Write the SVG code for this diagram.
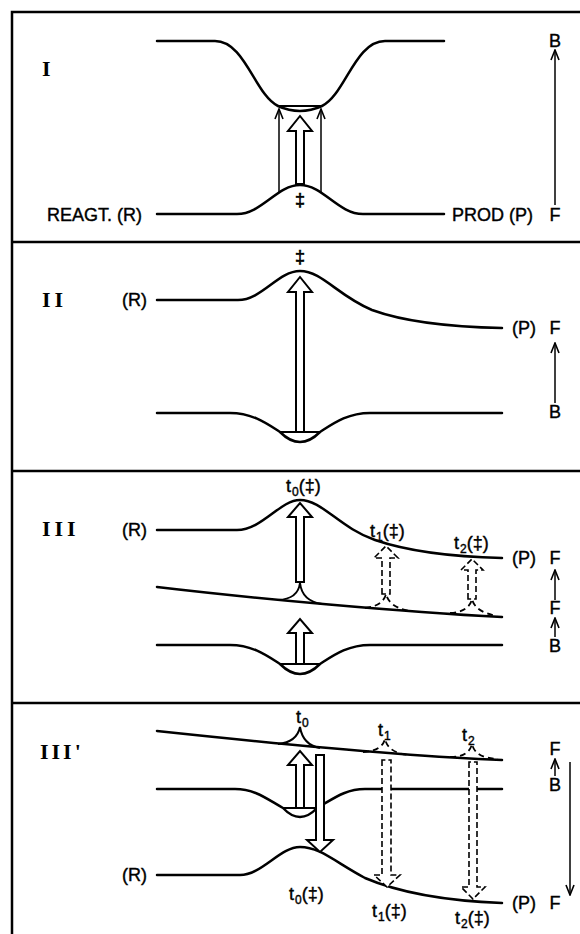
<svg xmlns="http://www.w3.org/2000/svg" width="580" height="934" viewBox="0 0 580 934">
<style>
.frame{stroke:#000;stroke-width:2.5;fill:none}
.curve{stroke:#000;stroke-width:2.5;fill:none;stroke-linecap:round}
.level{stroke:#000;stroke-width:2.2;fill:none}
.hollow{stroke:#000;stroke-width:2;fill:#fff}
.dhollow{stroke:#000;stroke-width:1.6;fill:#fff;stroke-dasharray:6 3}
.cusp{stroke:#000;stroke-width:2;fill:none}
.dcusp{stroke:#000;stroke-width:1.8;fill:none;stroke-dasharray:6 4}
.thin{stroke:#000;stroke-width:1.5;fill:none;marker-end:url(#vhead)}
.lbl{font-family:"Liberation Sans",Arial,sans-serif;font-size:18px;fill:#000;stroke:#000;stroke-width:0.4}
.tl{font-size:18px}
.sub{font-size:12px}
.rn{font-family:"Liberation Serif","Times New Roman",serif;font-size:22px;font-weight:bold;fill:#000}
.ts{font-family:"Liberation Sans",Arial,sans-serif;font-size:18px;fill:#000;stroke:#000;stroke-width:0.6;text-anchor:middle}
.ax{font-family:"Liberation Sans",Arial,sans-serif;font-size:18px;fill:#000;stroke:#000;stroke-width:0.4;text-anchor:middle}
</style>
<defs>
<marker id="vhead" viewBox="-12 -6 13 12" refX="0" refY="0" markerWidth="13" markerHeight="12" orient="auto" markerUnits="userSpaceOnUse"><path d="M-10,-4 L0,0 L-10,4" fill="none" stroke="#000" stroke-width="1.6"/></marker>
</defs>
<rect width="580" height="934" fill="#fff"/>
<g id="frame" class="frame">
<path d="M12,934 V12 H582"/>
<path d="M12,242 H582"/>
<path d="M12,471 H582"/>
<path d="M12,703 H582"/>
</g>

<g id="panel-I">
<text class="rn" x="42" y="76">I</text>
<path class="curve" d="M157,41 H215 C245,41 255,95 278,106 Q300,116 322,106 C345,95 355,41 385,41 H444"/>
<path class="level" d="M278,106 H322"/>
<path class="curve" d="M157,214 H237 C262,214 277,185 300,185 C323,185 338,214 363,214 H444"/>
<text class="ts" x="300" y="206">‡</text>
<text class="lbl" x="47" y="221">REAGT. (R)</text>
<text class="lbl" x="452" y="221">PROD (P)</text>
<text class="ax" x="555" y="221">F</text>
<text class="ax" x="555" y="47">B</text>
</g>

<g id="panel-II">
<text class="rn" x="42" y="307" letter-spacing="4">II</text>
<text class="lbl" x="122" y="306">(R)</text>
<path class="curve" d="M157,300 H238 C262,300 278,271 300,271 C322,271 338,296 372,310 C405,322 450,327 502,328"/>
<text class="ts" x="300" y="263">‡</text>
<text class="lbl" x="512" y="334">(P)</text>
<text class="ax" x="555" y="334">F</text>
<text class="ax" x="555" y="418">B</text>
<path class="curve" d="M157,413 H230 C252,413 266,423 280,432 Q300,452 320,432 C334,423 348,413 370,413 H502"/>
<path class="level" d="M280,432 H320"/>
</g>

<g id="panel-III">
<text class="rn" x="42" y="536" letter-spacing="4">III</text>
<text class="lbl" x="122" y="536">(R)</text>
<path class="curve" d="M157,530 H237 C262,530 280,500 300,500 C322,500 340,528 375,540 C410,552 460,557 502,558"/>
<text class="lbl tl" x="286" y="492">t<tspan class="sub" dx="1" dy="4">0</tspan><tspan dy="-4">(‡)</tspan></text>
<text class="lbl tl" x="370" y="537">t<tspan class="sub" dx="1" dy="4">1</tspan><tspan dy="-4">(‡)</tspan></text>
<text class="lbl tl" x="454" y="549">t<tspan class="sub" dx="1" dy="4">2</tspan><tspan dy="-4">(‡)</tspan></text>
<text class="lbl" x="512" y="564">(P)</text>
<text class="ax" x="555" y="564">F</text>
<text class="ax" x="555" y="614">F</text>
<text class="ax" x="555" y="652">B</text>
<path class="curve" d="M157,587 C250,598 400,612 502,617"/>
<path class="cusp" d="M278,600 Q298,599 300,583 Q302,601 322,604"/>
<path class="dcusp" d="M365,608 Q383,606 386,594 Q389,607 409,611"/>
<path class="dcusp" d="M450,613 Q469,612 472,599 Q475,612 497,616"/>
<path class="curve" d="M157,645 H230 C252,645 266,655 280,664 Q300,684 320,664 C334,655 348,645 370,645 H502"/>
<path class="level" d="M280,664 H320"/>
</g>

<g id="panel-IIIp">
<text class="rn" x="40" y="759" letter-spacing="3">III'</text>
<path class="curve" d="M157,731 C260,742 400,756 502,760"/>
<path class="cusp" d="M278,744 Q297,742 300,727 Q303,745 320,748"/>
<path class="dcusp" d="M363,752 Q382,751 385,739 Q388,753 409,755"/>
<path class="dcusp" d="M450,757 Q469,757 472,744 Q475,758 498,759"/>
<text class="lbl tl" x="296" y="723">t<tspan class="sub" dx="1" dy="4">0</tspan></text>
<text class="lbl tl" x="378" y="736">t<tspan class="sub" dx="1" dy="4">1</tspan></text>
<text class="lbl tl" x="462" y="741">t<tspan class="sub" dx="1" dy="4">2</tspan></text>
<path class="curve" d="M157,789 H235 C255,789 267,799 283,808 Q300,826 317,808 C333,799 345,789 365,789 H502"/>
<path class="level" d="M283,808 H317"/>
<path class="curve" d="M157,875 H240 C262,875 280,847 300,847 C320,847 335,862 365,878 C400,893 450,901 502,903"/>
<text class="lbl" x="122" y="881">(R)</text>
<text class="lbl tl" x="289" y="900">t<tspan class="sub" dx="1" dy="4">0</tspan><tspan dy="-4">(‡)</tspan></text>
<text class="lbl tl" x="372" y="917">t<tspan class="sub" dx="1" dy="4">1</tspan><tspan dy="-4">(‡)</tspan></text>
<text class="lbl tl" x="455" y="924">t<tspan class="sub" dx="1" dy="4">2</tspan><tspan dy="-4">(‡)</tspan></text>
<text class="lbl" x="512" y="909">(P)</text>
<text class="ax" x="555" y="909">F</text>
<text class="ax" x="555" y="755">F</text>
<text class="ax" x="555" y="791">B</text>
</g>

<g id="connectors">
<path class="thin" d="M279,193 V109"/>
<path class="thin" d="M321,193 V109"/>
<path class="hollow" d="M296,184 V131 H288 L300,116 L312,131 H304 V184 Z"/>
<path class="thin" d="M555,205 V50"/>

<path class="hollow" d="M296,432 V292 H288 L300,277 L312,292 H304 V432 Z"/>
<path class="thin" d="M555,403 V343"/>

<path class="hollow" d="M296,582 V517 H288 L300,503 L312,517 H304 V582 Z"/>
<path class="dhollow" d="M382,594 V558 H374 L386,546 L398,558 H390 V594 Z"/>
<path class="dhollow" d="M468,599 V570 H461 L472,559 L483,570 H476 V599 Z"/>
<path class="hollow" d="M296,664 V633 H288 L300,619 L312,633 H304 V664 Z"/>
<path class="thin" d="M555,600 V570"/>
<path class="thin" d="M555,637 V618"/>

<path class="hollow" d="M296,808 V765 H288 L300,751 L312,765 H304 V808 Z"/>
<path class="hollow" d="M316,755 V840 H307 L320,852 L333,840 H324 V755 Z"/>
<path class="dhollow" d="M382,760 V875 H374 L387,887 L400,875 H391 V760 Z"/>
<path class="dhollow" d="M469,762 V887 H461 L473,899 L485,887 H477 V762 Z"/>
<path class="thin" d="M555,776 V759"/>
<path class="thin" d="M570,762 V895"/>
</g>
</svg>
